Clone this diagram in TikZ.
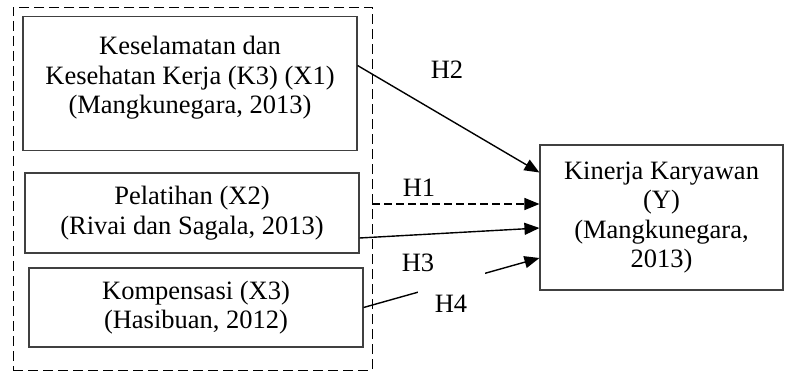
\documentclass[tikz,border=0pt]{standalone}
\usepackage{fontspec}
\setmainfont{Liberation Serif}
\usetikzlibrary{arrows.meta}

\begin{document}
\begin{tikzpicture}[x=1pt, y=-1pt,
    varbox/.style={draw=black!75, line width=1.1pt, align=center, inner sep=0pt,
        font=\fontsize{26.5}{29.5}\selectfont},
    hyplabel/.style={inner sep=0pt, font=\fontsize{26.5}{29.5}\selectfont},
    link/.style={line width=1.4pt, -{Triangle[length=15pt, width=12pt]}},
    grpline/.style={line width=0.9pt, dash pattern=on 10pt off 5pt}]
    \useasboundingbox (0,0) rectangle (786,374);

    % Independent variables
    \node[varbox, minimum width=334pt, minimum height=134pt] (x1) at (190,83.5)
        {Keselamatan dan\\Kesehatan Kerja (K3) (X1)\\(Mangkunegara, 2013)\\[-13pt]\mbox{}};
    \node[varbox, minimum width=334pt, minimum height=80pt] (x2) at (192,213)
        {Pelatihan (X2)\\(Rivai dan Sagala, 2013)};
    \node[varbox, minimum width=334pt, minimum height=79pt] (x3) at (196,307.5)
        {Kompensasi (X3)\\(Hasibuan, 2012)};

    % Group of X1, X2, X3
    \node[grpline, draw, minimum width=359pt, minimum height=363pt] (grp) at (192.5,188.5) {};

    % Dependent variable
    \node[varbox, minimum width=243pt, minimum height=145pt] (y) at (661.5,217.5)
        {Kinerja Karyawan\\(Y)\\(Mangkunegara,\\2013)};

    % Arrows
    \draw[link] ([yshift=18pt]x1.east) -- ([yshift=45pt]y.west);
    \draw[link, dash pattern=on 8pt off 4pt] ([yshift=-15.5pt]grp.east) -- ([yshift=13.5pt]y.west);
    \draw[link] ([yshift=-25pt]x2.east) -- ([yshift=-10.5pt]y.west);
    \draw[link] ([yshift=0pt]x3.east) -- ([yshift=-40.5pt]y.west);

    % Hypothesis labels
    \node[hyplabel] (h2) at (447,70) {H2};
    \node[hyplabel] (h1) at (419,188) {H1};
    \node[hyplabel] (h3) at (418,263) {H3};
    \node[hyplabel, fill=white, anchor=base, minimum width=67pt,
        text height=40pt, text depth=8pt] (h4) at (451,312) {H4};
\end{tikzpicture}
\end{document}
